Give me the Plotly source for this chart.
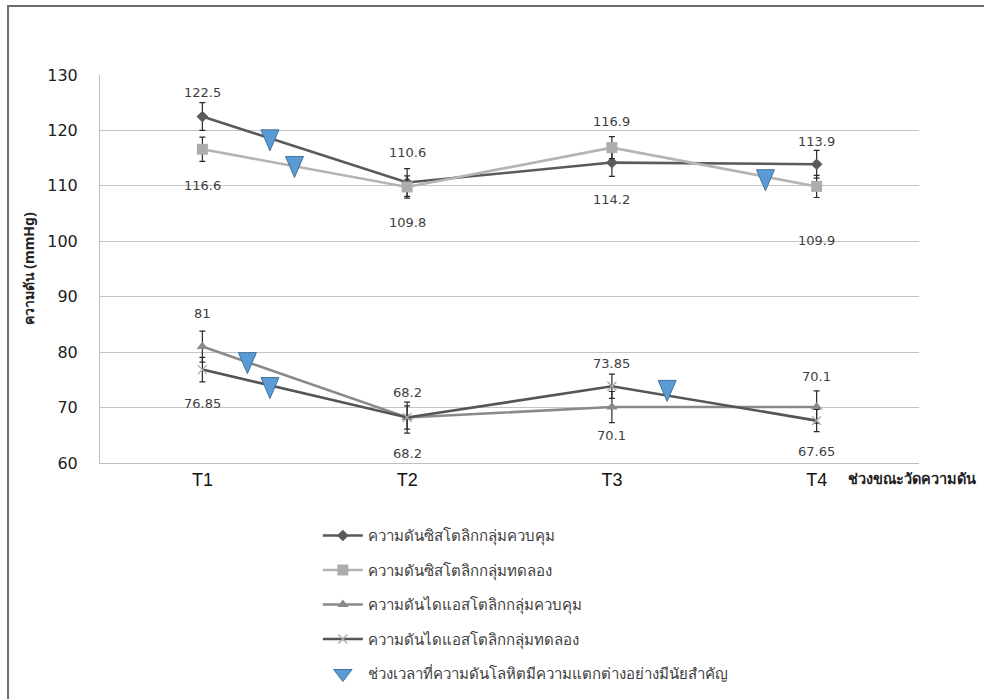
import plotly.graph_objects as go

# Blood pressure at four measurement periods (mmHg)
periods = ["T1", "T2", "T3", "T4"]

sys_control = [122.5, 110.6, 114.2, 113.9]
sys_control_err = [2.5, 2.5, 2.5, 2.5]
sys_treat = [116.6, 109.8, 116.9, 109.9]
sys_treat_err = [2.2, 2.0, 2.0, 2.0]
dia_control = [81, 68.2, 70.1, 70.1]
dia_control_err = [2.8, 2.8, 2.8, 2.9]
dia_treat = [76.85, 68.2, 73.85, 67.65]
dia_treat_err = [2.2, 2.1, 2.2, 2.0]

# Marks for intervals with a significant difference (0 = T1 on the time axis)
sig_pos = [0.33, 0.45, 2.75, 0.22, 0.33, 2.27]
sig_val = [118.3, 113.5, 111.1, 78.1, 73.6, 73.1]

series_names = [
    "ความดันซิสโตลิกกลุ่มควบคุม",
    "ความดันซิสโตลิกกลุ่มทดลอง",
    "ความดันไดแอสโตลิกกลุ่มควบคุม",
    "ความดันไดแอสโตลิกกลุ่มทดลอง",
]
sig_name = "ช่วงเวลาที่ความดันโลหิตมีความแตกต่างอย่างมีนัยสำคัญ"
y_title = "ความดัน (mmHg)"
x_title = "ช่วงขณะวัดความดัน"

series = [sys_control, sys_treat, dia_control, dia_treat]
errors = [sys_control_err, sys_treat_err, dia_control_err, dia_treat_err]

# styling per series
line_colors = ["#5a5a5a", "#b4b4b4", "#8a8a8a", "#555555"]
marker_colors = ["#5a5a5a", "#adadad", "#8a8a8a", "#a8a8a8"]
symbols = ["diamond", "square", "triangle-up", "x-thin"]
marker_sizes = [9, 11, 10, 9]
# vertical offsets (px) of the value labels, positive = above the point
label_shift = [
    [24, 30, -37, 23],
    [-36, -36, 26, -54],
    [33, 25, -28, 31],
    [-34, -36, 23, -31],
]

sig_fill = "#5b9bd5"
sig_edge = "#41719c"
# narrow downward triangle (pixel offsets around the anchor point)
sig_path = "M-9,10 L9,10 L0,-11 Z"

thai_font = "Noto Sans, DejaVu Sans, sans-serif"
num_font = "DejaVu Sans, sans-serif"

xs = list(range(len(periods)))
fig = go.Figure()

for i, vals in enumerate(series):
    marker = dict(symbol=symbols[i], size=marker_sizes[i], color=marker_colors[i])
    if symbols[i] == "x-thin":
        marker["line"] = dict(width=1.3, color=marker_colors[i])
    fig.add_trace(go.Scatter(
        x=xs, y=vals, name=series_names[i], mode="lines+markers",
        line=dict(color=line_colors[i], width=2.6),
        marker=marker,
        error_y=dict(type="data", array=errors[i], color="#2b2b2b",
                     thickness=1.2, width=3),
        legendgroup=f"g{i}",
    ))

# legend entry for the significance marks
fig.add_trace(go.Scatter(
    x=[None], y=[None], name=sig_name, mode="markers",
    marker=dict(symbol="triangle-down", size=16, color=sig_fill,
                line=dict(color=sig_edge, width=1)),
    legendgroup="sig",
))

# significance marks anchored at their data positions
shapes = [
    dict(type="path", xref="x", yref="y",
         xsizemode="pixel", ysizemode="pixel",
         xanchor=px, yanchor=py, path=sig_path,
         fillcolor=sig_fill, line=dict(color=sig_edge, width=1), layer="above")
    for px, py in zip(sig_pos, sig_val)
]
shapes.append(dict(type="rect", xref="paper", yref="paper",
                   x0=-0.1123, x1=1.09, y0=-0.65, y1=1.1778,
                   line=dict(color="#6e6e6e", width=2)))

annotations = []
for i, vals in enumerate(series):
    for j, v in enumerate(vals):
        annotations.append(dict(
            x=xs[j], y=v, text=f"{v:g}", showarrow=False,
            yshift=label_shift[i][j], xref="x", yref="y",
            font=dict(family=num_font, size=13, color="#404040"),
        ))

annotations.append(dict(
    x=-0.0875, y=0.5, xref="paper", yref="paper", text=f"<b>{y_title}</b>",
    textangle=-90, xanchor="center", yanchor="middle", showarrow=False,
    font=dict(family=thai_font, size=14, color="#222222"),
))
annotations.append(dict(
    x=0.911, y=-0.039, xref="paper", yref="paper", text=f"<b>{x_title}</b>",
    xanchor="left", yanchor="middle", showarrow=False,
    font=dict(family=thai_font, size=14.5, color="#222222"),
))

fig.update_layout(
    width=984, height=699,
    margin=dict(l=100, r=65, t=75, b=236, autoexpand=False),
    paper_bgcolor="white", plot_bgcolor="white",
    annotations=annotations,
    shapes=shapes,
    legend=dict(
        x=0.266, y=-0.145, xanchor="left", yanchor="top",
        orientation="v", tracegroupgap=12, itemwidth=40,
        font=dict(family=thai_font, size=15, color="#404040"),
        bgcolor="rgba(0,0,0,0)",
    ),
    xaxis=dict(
        range=[-0.5, 3.5], tickvals=xs, ticktext=periods,
        showgrid=False, zeroline=False, showline=True,
        linecolor="#bfbfbf", linewidth=1,
        tickfont=dict(family="Liberation Sans, Arial, sans-serif", size=18, color="#111111"),
    ),
    yaxis=dict(
        range=[60, 130], dtick=10, showgrid=True, gridcolor="#c4c4c4",
        gridwidth=1, zeroline=False, showline=True, linecolor="#bfbfbf",
        ticklabelstandoff=18,
        tickfont=dict(family=num_font, size=16, color="#222222"),
    ),
)

fig.write_html("out.html")
